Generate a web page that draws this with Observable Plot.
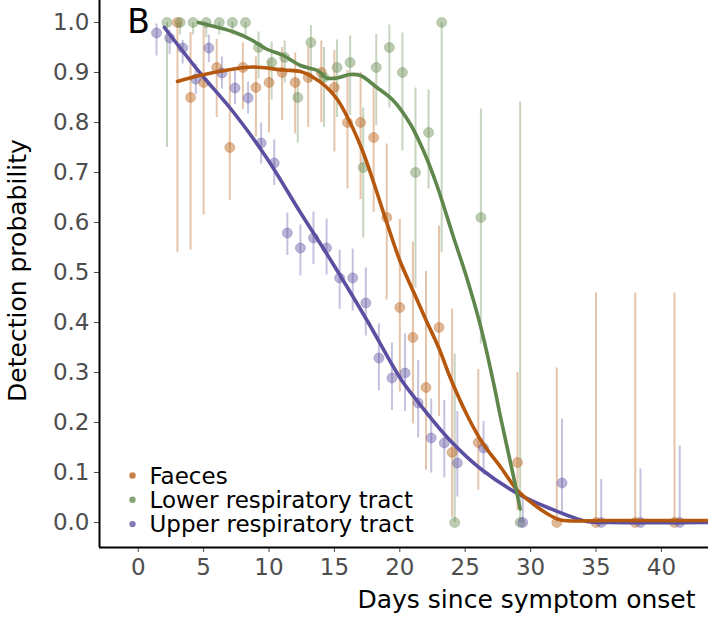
<!DOCTYPE html>
<html>
<head>
<meta charset="utf-8">
<script src="https://cdn.jsdelivr.net/npm/d3@7"></script>
<script src="https://cdn.jsdelivr.net/npm/@observablehq/plot@0.6"></script>
<style>
  html, body { margin: 0; padding: 0; background: white; }
  #chart { width: 708px; height: 633px; }
</style>
</head>
<body>
<div id="chart"></div>
<script>
// ---- Data ----
const seriesNames = ["Faeces", "Lower respiratory tract", "Upper respiratory tract"];
const seriesColors = ["#b5570c", "#5f874b", "#5a4fa0"];
const seriesDodge = [0, 0.2, 0.4];

const faecesDay = [3,4,5,6,7,8,9,10,11,12,13,14,15,16,17,18,19,20,21,22,23,24,26,29,32,35,38,41];
const faecesP   = [1.0,0.85,0.88,0.91,0.75,0.91,0.87,0.88,0.90,0.88,0.89,0.90,0.87,0.80,0.80,0.77,0.61,0.43,0.37,0.27,0.39,0.14,0.16,0.12,0,0,0,0];
const faecesLo  = [0.54,0.545,0.615,0.81,0.644,0.826,0.771,0.779,0.804,0.777,0.79,0.80,0.741,0.667,0.646,0.62,0.445,0.261,0.197,0.105,0.212,0.01,0.065,0.024,0,0,0,0];
const faecesHi  = [1.0,0.98,0.99,0.966,0.90,0.959,0.931,0.924,0.95,0.939,0.951,0.963,0.944,0.904,0.90,0.88,0.757,0.606,0.561,0.502,0.593,0.427,0.306,0.30,0.309,0.459,0.459,0.459];

const lrtDay = [2,3,4,5,6,7,8,9,10,11,12,13,14,15,16,17,18,19,20,21,22,23,24,26,29];
const lrtP   = [1.0,1.0,1.0,1.0,1.0,1.0,1.0,0.95,0.92,0.93,0.85,0.96,0.89,0.91,0.92,0.71,0.91,0.95,0.90,0.70,0.78,1.0,0.0,0.61,0.0];
const lrtLo  = [0.75,0.975,0.975,0.97,0.975,0.975,0.975,0.887,0.845,0.879,0.759,0.88,0.79,0.81,0.814,0.569,0.794,0.829,0.743,0.469,0.667,0.54,0.0,0.357,0.0];
const lrtHi  = [1.0,1.0,1.0,1.0,1.0,1.0,1.0,0.981,0.961,0.963,0.887,0.994,0.95,0.965,0.973,0.829,0.976,0.995,0.979,0.869,0.865,1.0,0.337,0.827,0.841];

const urtDay = [1,2,3,4,5,6,7,8,9,10,11,12,13,14,15,16,17,18,19,20,21,22,23,24,26,29,32,35,38,41];
const urtP   = [0.979,0.969,0.949,0.887,0.949,0.899,0.869,0.849,0.759,0.719,0.579,0.549,0.569,0.549,0.489,0.489,0.439,0.329,0.289,0.299,0.239,0.169,0.159,0.119,0.149,0,0.079,0,0,0];
const urtLo  = [0.933,0.936,0.917,0.856,0.92,0.867,0.836,0.817,0.717,0.674,0.534,0.493,0.516,0.495,0.426,0.423,0.373,0.263,0.224,0.222,0.169,0.099,0.089,0.051,0.095,0,0.017,0,0,0];
const urtHi  = [0.997,0.985,0.964,0.917,0.975,0.931,0.903,0.881,0.799,0.765,0.619,0.595,0.621,0.607,0.545,0.547,0.509,0.397,0.359,0.377,0.324,0.247,0.244,0.222,0.202,0.058,0.207,0.086,0.107,0.153];

// fitted curves
const faecesFitDay = [3,4.7,7.3,8.7,11.1,12.4,13.4,14.3,15.2,16.2,17.2,18.0,19,20,21,22,23,23.85,25.1,26.3,27.7,29,30.2,31.5,32.3,36,43.6];
const faecesFitP   = [0.882,0.894,0.907,0.911,0.905,0.902,0.89,0.873,0.847,0.80,0.74,0.68,0.60,0.524,0.464,0.405,0.348,0.29,0.217,0.16,0.111,0.064,0.037,0.014,0.005,0.004,0.004];
const lrtFitDay = [4.6,7.3,8.6,9.8,11.1,12.4,13.7,14.4,15.2,16.2,17.0,18.2,19.5,20.8,21.8,22.8,24.1,25.1,26.2,27.2,27.7,28.7,29.2];
const lrtFitP   = [1.0,0.981,0.966,0.947,0.934,0.914,0.904,0.889,0.889,0.896,0.894,0.871,0.844,0.797,0.744,0.677,0.571,0.491,0.39,0.275,0.211,0.091,0.027];
const urtFitDay = [2,4.7,7.3,9.8,12.4,14.9,17.5,20,21.3,23.85,26.2,29,31.3,34.3,36,43.6];
const urtFitP   = [0.99,0.90,0.82,0.73,0.62,0.517,0.404,0.29,0.244,0.164,0.107,0.058,0.03,0.002,0.0,0.0];

const xTicks = [0,5,10,15,20,25,30,35,40];
const yTicks = [0,0.1,0.2,0.3,0.4,0.5,0.6,0.7,0.8,0.9,1.0];
const xTitle = "Days since symptom onset";
const yTitle = "Detection probability";
const panelTag = "B";

// ---- Build tables ----
const obsSets = [
  [faecesDay, faecesP, faecesLo, faecesHi],
  [lrtDay, lrtP, lrtLo, lrtHi],
  [urtDay, urtP, urtLo, urtHi]
];
const fitSets = [[faecesFitDay, faecesFitP],[lrtFitDay, lrtFitP],[urtFitDay, urtFitP]];

const obs = obsSets.flatMap(([d, p, lo, hi], s) =>
  d.map((day, i) => ({series: seriesNames[s], x: day + seriesDodge[s], p: p[i], lo: lo[i], hi: hi[i]})));
const fit = fitSets.flatMap(([d, p], s) =>
  d.map((day, i) => ({series: seriesNames[s], x: day, p: p[i]})));
const fitOrder = [2, 0, 1];

const xDomain = [-2.96, 43.6];
const yDomain = [-0.05, 1.044];
const font = "'DejaVu Sans', sans-serif";

const legendMarks = seriesNames.flatMap((name, i) => [
  Plot.dot([name], {frameAnchor: "bottom-left", dx: 33, dy: -72 + i * 24.3, r: 3.2, fill: seriesColors[i], fillOpacity: 0.75}),
  Plot.text([name], {frameAnchor: "bottom-left", dx: 50, dy: -71 + i * 24.3, text: d => d, textAnchor: "start", lineAnchor: "middle", fontSize: 23, fill: "black"})
]);

const chart = Plot.plot({
  width: 708,
  height: 633,
  marginLeft: 99,
  marginRight: 0,
  marginTop: 0,
  marginBottom: 86,
  style: {fontFamily: font, background: "white", overflow: "visible"},
  x: {domain: xDomain},
  y: {domain: yDomain},
  color: {domain: seriesNames, range: seriesColors},
  marks: [
    Plot.ruleX(obs, {x: "x", y1: "lo", y2: "hi", stroke: "series", strokeOpacity: 0.35, strokeWidth: 2}),
    Plot.dot(obs, {x: "x", y: "p", r: 5, fill: "series", fillOpacity: 0.42, stroke: "series", strokeOpacity: 0.3, strokeWidth: 1}),
    ...fitOrder.map(s => Plot.line(fit.filter(d => d.series === seriesNames[s]), {x: "x", y: "p", stroke: "series", strokeWidth: 3.6, curve: "catmull-rom"})),
    Plot.axisX({ticks: xTicks, tickSize: 5, tickPadding: 6, fontSize: 23, label: null, color: "#4d4d4d"}),
    Plot.axisY({ticks: yTicks, tickFormat: d3.format(".1f"), tickSize: 5, tickPadding: 5, fontSize: 23, label: null, color: "#4d4d4d"}),
    Plot.ruleX([xDomain[0]], {stroke: "black", strokeWidth: 2}),
    Plot.ruleY([yDomain[0]], {stroke: "black", strokeWidth: 2}),
    Plot.text([xTitle], {frameAnchor: "bottom-right", dx: -13, dy: 52, text: d => d, textAnchor: "end", lineAnchor: "middle", fontSize: 25, fill: "black"}),
    Plot.text([yTitle], {frameAnchor: "left", dx: -82, dy: -3.5, text: d => d, rotate: -90, textAnchor: "middle", lineAnchor: "middle", fontSize: 25, fill: "black"}),
    Plot.text([panelTag], {frameAnchor: "top-left", dx: 39, dy: 22, text: d => d, textAnchor: "middle", lineAnchor: "middle", fontSize: 33, fill: "black"}),
    ...legendMarks
  ]
});
document.getElementById("chart").appendChild(chart);
</script>
</body>
</html>
